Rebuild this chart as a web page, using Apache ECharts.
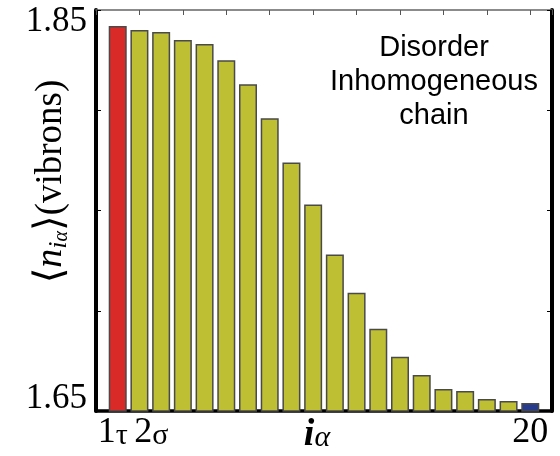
<!DOCTYPE html>
<html>
<head>
<meta charset="utf-8">
<script src="https://cdn.jsdelivr.net/npm/echarts@6/dist/echarts.min.js"></script>
<style>
  html, body { margin: 0; padding: 0; background: #fff; }
  #chart { width: 560px; height: 456px; }
</style>
</head>
<body>
<div id="chart"></div>
<script>
// Site index along the chain (1..20)
const sites = [1, 2, 3, 4, 5, 6, 7, 8, 9, 10, 11, 12, 13, 14, 15, 16, 17, 18, 19, 20];
// Mean vibron population on each site
const populations = [1.842, 1.840, 1.839, 1.835, 1.833, 1.825, 1.813, 1.796, 1.774, 1.753,
                     1.728, 1.709, 1.691, 1.677, 1.668, 1.661, 1.660, 1.656, 1.655, 1.654];
// Tick labels on the site axis (value -> [number, subscript])
const siteTickLabels = { 1: ['1', 'τ'], 2: ['2', 'σ'], 20: ['20', ''] };
// Labelled population ticks
const popTickLabels = [1.65, 1.85];
const annotation = ['Disorder', 'Inhomogeneous', 'chain'];

const SERIF = "'Liberation Serif', 'DejaVu Serif', serif";
const SANS = "'Liberation Sans', Arial, sans-serif";

const RED = '#d92a28';
const OLIVE = '#bfbf33';
const BLUE = '#263b8e';

function barColor(i) {
  if (i === 0) return RED;
  if (i === sites.length - 1) return BLUE;
  return OLIVE;
}

const barData = sites.map((s, i) => ({
  value: [s, populations[i]],
  itemStyle: { color: barColor(i) }
}));

// The first two site labels sit close together, so they are nudged apart
function siteLabel(v) {
  const t = siteTickLabels[v];
  if (!t) return '';
  if (v === 1) return '{n|' + t[0] + '}{s1|' + t[1] + '}';
  if (v === 2) return '{n2|' + t[0] + '}{s|' + t[1] + '}';
  return '{n|' + t[0] + '}';
}

const numStyle = { fontFamily: SERIF, fontSize: 36, color: '#000', lineHeight: 36 };
const subStyle = { fontFamily: SERIF, fontSize: 30, color: '#000', lineHeight: 16, verticalAlign: 'bottom' };

const chart = echarts.init(document.getElementById('chart'), null, { renderer: 'canvas' });

chart.setOption({
  animation: false,
  backgroundColor: '#fff',
  grid: { left: 96, right: 8, top: 10, bottom: 45, containLabel: false, outerBoundsMode: 'none' },
  xAxis: [
    {
      type: 'value',
      position: 'bottom',
      min: 0, max: 21, interval: 1,
      axisLine: { show: true, onZero: false, lineStyle: { color: '#000', width: 3.5 } },
      axisTick: { show: false },
      splitLine: { show: false },
      axisLabel: {
        margin: 4,
        hideOverlap: false,
        showMinLabel: true, showMaxLabel: true,
        formatter: siteLabel,
        rich: {
          n: numStyle,
          n2: Object.assign({}, numStyle, { padding: [0, 0, 0, 24] }),
          s: subStyle,
          s1: Object.assign({}, subStyle, { padding: [0, 10, 0, 0] })
        }
      },
      name: '{i|i}{a|α}',
      nameLocation: 'middle',
      nameGap: 6,
      nameMoveOverlap: false,
      nameTextStyle: {
        verticalAlign: 'top',
        rich: {
          i: { fontFamily: SERIF, fontStyle: 'italic', fontWeight: 'bold', fontSize: 38, color: '#000', lineHeight: 36 },
          a: { fontFamily: SERIF, fontStyle: 'italic', fontSize: 30, color: '#000', lineHeight: 18, verticalAlign: 'bottom', padding: [0, 14, 0, 0] }
        }
      }
    },
    {
      type: 'value',
      position: 'top',
      min: 0, max: 21, interval: 2,
      axisLine: { show: true, onZero: false, lineStyle: { color: '#666', width: 1.5 } },
      axisTick: { show: true, inside: true, length: 5, lineStyle: { color: '#555', width: 1 } },
      axisLabel: { show: false },
      splitLine: { show: false }
    }
  ],
  yAxis: [
    {
      type: 'value',
      position: 'left',
      min: 1.65, max: 1.85, interval: 0.05,
      axisLine: { show: true, onZero: false, lineStyle: { color: '#000', width: 4 } },
      axisTick: { show: true, inside: true, length: 5, lineStyle: { color: '#000', width: 1 } },
      splitLine: { show: false },
      axisLabel: {
        margin: 9,
        formatter: v => {
          const r = Math.round(v * 100) / 100;
          if (r === popTickLabels[1]) return '{top|' + r.toFixed(2) + '}';
          if (r === popTickLabels[0]) return '{bot|' + r.toFixed(2) + '}';
          return '';
        },
        rich: {
          top: { fontFamily: SERIF, fontSize: 35, color: '#000', padding: [24, 0, 0, 0] },
          bot: { fontFamily: SERIF, fontSize: 35, color: '#000', padding: [0, 0, 24, 0] }
        }
      },
      name: '{t|⟨}{n|n}{i|i}{a|α}{t|⟩}{v|(vibrons)}',
      nameLocation: 'middle',
      nameRotate: 90,
      nameGap: 24,
      nameMoveOverlap: false,
      nameTextStyle: {
        padding: [0, 0, 0, 58],
        rich: {
          t: { fontFamily: SERIF, fontSize: 40, color: '#000', lineHeight: 42 },
          n: { fontFamily: SERIF, fontStyle: 'italic', fontSize: 38, color: '#000', lineHeight: 42 },
          i: { fontFamily: SERIF, fontStyle: 'italic', fontSize: 26, color: '#000', lineHeight: 26, verticalAlign: 'bottom' },
          a: { fontFamily: SERIF, fontStyle: 'italic', fontSize: 20, color: '#000', lineHeight: 16, verticalAlign: 'bottom' },
          v: { fontFamily: SERIF, fontSize: 37, color: '#000', lineHeight: 42 }
        }
      }
    },
    {
      type: 'value',
      position: 'right',
      min: 1.65, max: 1.85, interval: 0.05,
      axisLine: { show: true, onZero: false, lineStyle: { color: '#000', width: 4 } },
      axisTick: { show: true, inside: true, length: 5, lineStyle: { color: '#000', width: 1 } },
      axisLabel: { show: false },
      splitLine: { show: false }
    }
  ],
  series: [
    {
      type: 'bar',
      xAxisIndex: 0,
      yAxisIndex: 0,
      barWidth: 18,
      data: barData,
      itemStyle: { borderColor: '#4a4a4a', borderWidth: 1.5 },
      z: 1
    }
  ],
  graphic: [
    {
      type: 'text',
      x: 434,
      y: 31,
      z: 10,
      style: {
        text: annotation.join('\n'),
        fontFamily: SANS,
        fontSize: 29,
        lineHeight: 34,
        fill: '#000',
        align: 'center',
        verticalAlign: 'top'
      }
    }
  ]
});
</script>
</body>
</html>
